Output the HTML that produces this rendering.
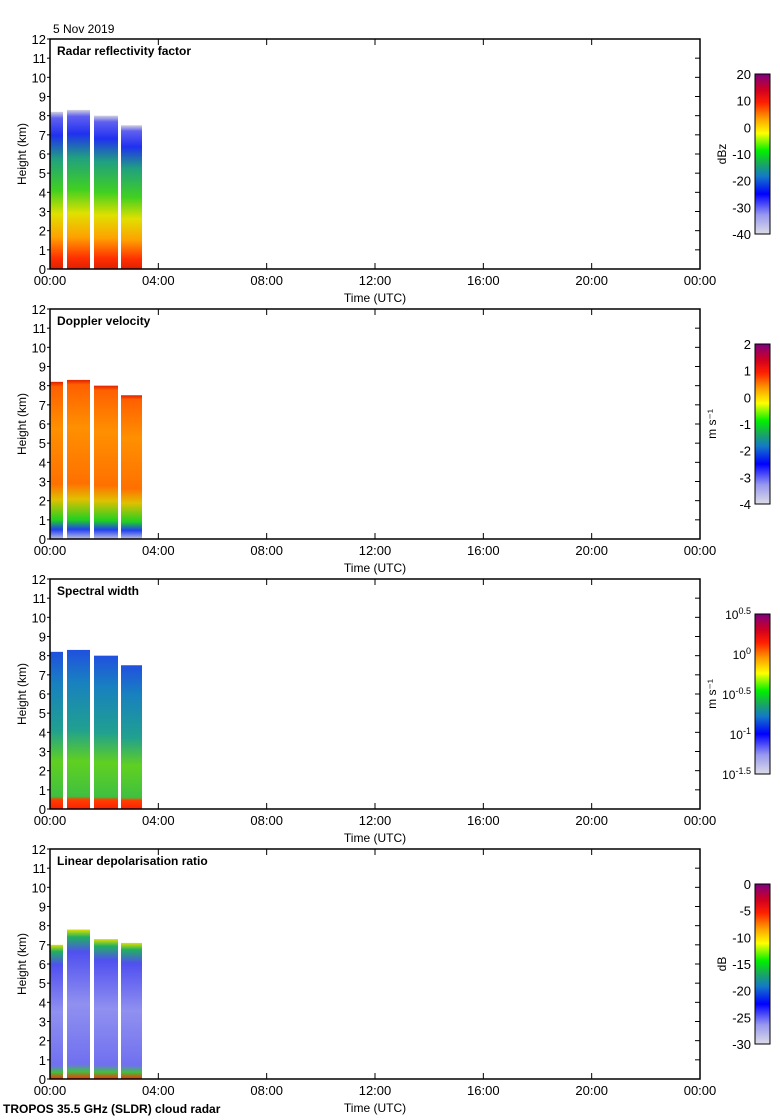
<!DOCTYPE html>
<html><head><meta charset="utf-8"><style>
html,body{margin:0;padding:0;background:#fff;}
svg{display:block;font-family:"Liberation Sans",sans-serif;}
</style></head><body>
<svg id="s" width="780" height="1120" xmlns="http://www.w3.org/2000/svg">
<defs>
<linearGradient id="cmap" x1="0" y1="1" x2="0" y2="0">
<stop offset="0" stop-color="#dcdce6"/><stop offset="0.12" stop-color="#9898f0"/><stop offset="0.25" stop-color="#0000ff"/><stop offset="0.36" stop-color="#1478c8"/><stop offset="0.45" stop-color="#18b050"/><stop offset="0.52" stop-color="#00f000"/><stop offset="0.63" stop-color="#ffff00"/><stop offset="0.72" stop-color="#ffa000"/><stop offset="0.82" stop-color="#ff2000"/><stop offset="0.9" stop-color="#d00020"/><stop offset="1" stop-color="#800080"/>
</linearGradient>
<linearGradient id="g1" x1="0" y1="1" x2="0" y2="0">
<stop offset="0" stop-color="#e02000"/><stop offset="0.07" stop-color="#ff3000"/><stop offset="0.2" stop-color="#ffa000"/><stop offset="0.35" stop-color="#e0e000"/><stop offset="0.5" stop-color="#40d020"/><stop offset="0.7" stop-color="#20a080"/><stop offset="0.85" stop-color="#2030f0"/><stop offset="0.96" stop-color="#6060f0"/><stop offset="1" stop-color="#d0d0e0"/>
</linearGradient>
<linearGradient id="g2" x1="0" y1="1" x2="0" y2="0">
<stop offset="0" stop-color="#c0c0e0"/><stop offset="0.06" stop-color="#2040f0"/><stop offset="0.12" stop-color="#20d020"/><stop offset="0.25" stop-color="#e0c000"/><stop offset="0.35" stop-color="#ff7000"/><stop offset="0.7" stop-color="#ff9000"/><stop offset="0.97" stop-color="#ff6000"/><stop offset="1" stop-color="#e02000"/>
</linearGradient>
<linearGradient id="g3" x1="0" y1="1" x2="0" y2="0">
<stop offset="0" stop-color="#ff2000"/><stop offset="0.06" stop-color="#ff4000"/><stop offset="0.08" stop-color="#40c040"/><stop offset="0.3" stop-color="#60d020"/><stop offset="0.5" stop-color="#20a090"/><stop offset="0.8" stop-color="#1880c0"/><stop offset="1" stop-color="#2050e0"/>
</linearGradient>
<linearGradient id="g4" x1="0" y1="1" x2="0" y2="0">
<stop offset="0" stop-color="#ff3000"/><stop offset="0.05" stop-color="#40c040"/><stop offset="0.1" stop-color="#7070f0"/><stop offset="0.5" stop-color="#9090f0"/><stop offset="0.85" stop-color="#5050f0"/><stop offset="0.95" stop-color="#20b060"/><stop offset="1" stop-color="#e0e000"/>
</linearGradient>
</defs>
<g id="root"></g>
</svg>
<script>
var ns="http://www.w3.org/2000/svg",root=document.getElementById("root");
function el(t,a,txt){var e=document.createElementNS(ns,t);for(var k in a)e.setAttribute(k,a[k]);if(txt!=null)e.textContent=txt;root.appendChild(e);return e;}
var titles=["Radar reflectivity factor","Doppler velocity","Spectral width","Linear depolarisation ratio"];
var units=["dBz","m s\u207B\u00B9","m s\u207B\u00B9","dB"];
var ux=[726,716,716,726];
var cbl=[["20","10","0","-10","-20","-30","-40"],["2","1","0","-1","-2","-3","-4"],["10^0.5","10^0","10^-0.5","10^-1","10^-1.5"],["0","-5","-10","-15","-20","-25","-30"]];
var X0=50,X1=700,W=650,H=230;
el("text",{x:53,y:33,"font-size":12},"5 Nov 2019");
var cols=[[50,63,8.2],[67,90,8.3],[94,118,8.0],[121,142,7.5]];
var cols4=[[50,63,7.0],[67,90,7.8],[94,118,7.3],[121,142,7.1]];
for(var p=0;p<4;p++){
 var T=39+270*p,B=T+H;
 var cs=p==3?cols4:cols;
 for(var c=0;c<4;c++){var h=cs[c][2]*H/12;el("rect",{x:cs[c][0],y:B-h,width:cs[c][1]-cs[c][0],height:h,fill:"url(#g"+(p+1)+")"});}
 el("rect",{x:X0,y:T,width:W,height:H,fill:"none",stroke:"#000","stroke-width":1.5});
 for(var i=0;i<=12;i++){var y=B-i*H/12;
  el("line",{x1:X0-3,x2:X0,y1:y,y2:y,stroke:"#000"});
  el("line",{x1:X1-5,x2:X1,y1:y,y2:y,stroke:"#000"});
  el("text",{x:46,y:y+5,"font-size":13,"text-anchor":"end"},""+i);}
 var tl=["00:00","04:00","08:00","12:00","16:00","20:00","00:00"];
 for(var i=0;i<=6;i++){var x=X0+i*W/6;
  el("line",{x1:x,x2:x,y1:B-6,y2:B,stroke:"#000"});
  el("line",{x1:x,x2:x,y1:T,y2:T+6,stroke:"#000"});
  el("text",{x:x,y:B+16,"font-size":13,"text-anchor":"middle"},tl[i]);}
 el("text",{x:375,y:B+33,"font-size":12,"text-anchor":"middle"},"Time (UTC)");
 el("text",{x:57,y:T+16,"font-size":12,"font-weight":"bold"},titles[p]);
 el("text",{x:0,y:0,"font-size":12,"text-anchor":"middle",transform:"translate(26,"+(T+H/2)+") rotate(-90)"},"Height (km)");
 var cT=T+35,cH=160;
 el("rect",{x:755,y:cT,width:15,height:cH,fill:"url(#cmap)",stroke:"#000"});
 var L=cbl[p],n=L.length;
 for(var i=0;i<n;i++){var y=cT+i*cH/(n-1);
  if(p==2){var pr=L[i].split("^");var t=el("text",{x:751,y:y+5,"font-size":12,"text-anchor":"end"});
   var a=document.createElementNS(ns,"tspan");a.textContent=pr[0];t.appendChild(a);
   var b=document.createElementNS(ns,"tspan");b.setAttribute("dy","-5");b.setAttribute("font-size","9");b.textContent=pr[1];t.appendChild(b);
  } else el("text",{x:751,y:y+5,"font-size":13,"text-anchor":"end"},L[i]);}
 el("text",{x:0,y:0,"font-size":12,"text-anchor":"middle",transform:"translate("+ux[p]+","+(cT+cH/2)+") rotate(-90)"},units[p]);
}
el("text",{x:3,y:1113,"font-size":12,"font-weight":"bold"},"TROPOS 35.5 GHz (SLDR) cloud radar");
</script>
</body></html>
